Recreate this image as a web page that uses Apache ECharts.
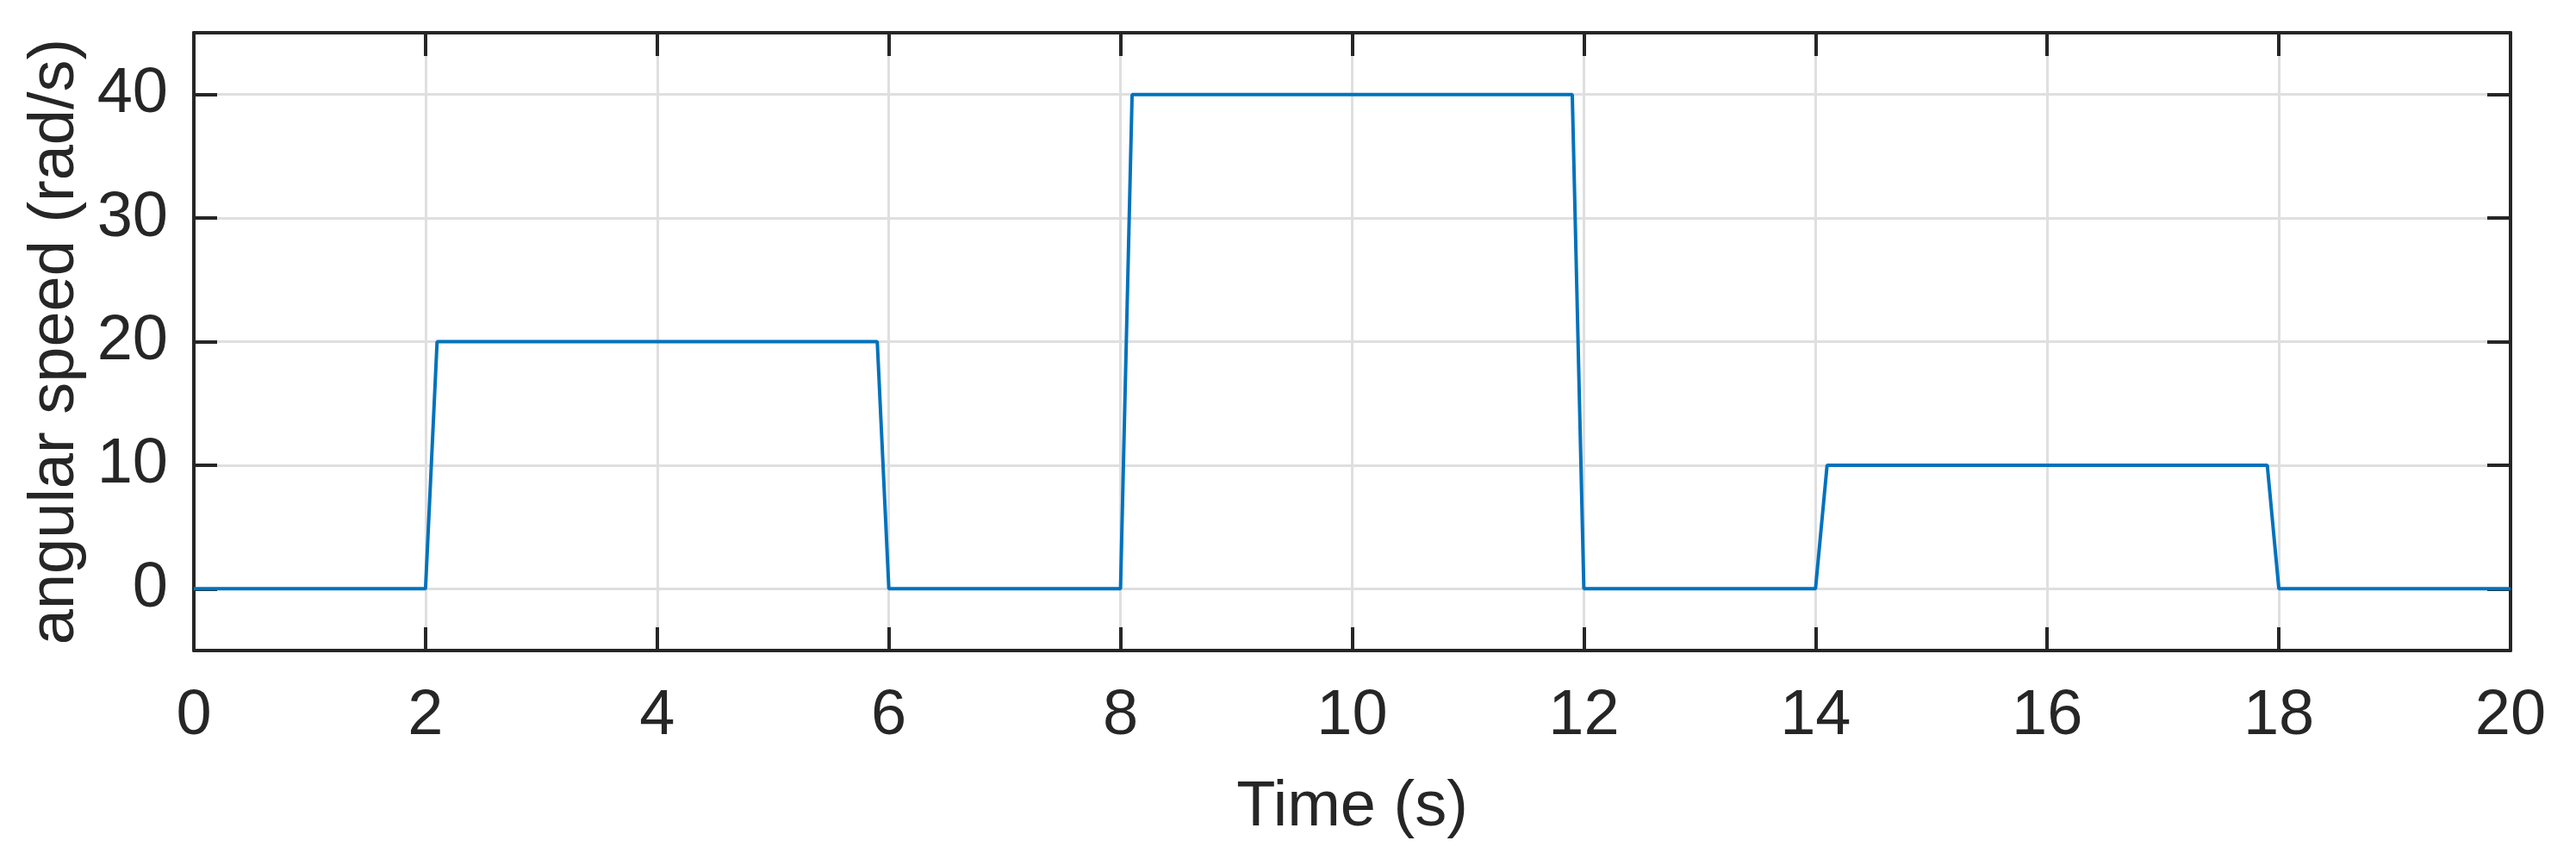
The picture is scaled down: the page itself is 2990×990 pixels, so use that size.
<!DOCTYPE html>
<html>
<head>
<meta charset="utf-8">
<script src="https://cdn.jsdelivr.net/npm/echarts@6/dist/echarts.min.js"></script>
<style>
  html, body { margin: 0; padding: 0; background: #fff; }
  #chart { width: 2990px; height: 990px; }
</style>
</head>
<body>
<div id="chart"></div>
<script>
  // step profile of the commanded angular speed
  const times = [0, 2, 2.1, 5.9, 6, 8, 8.1, 11.9, 12, 14, 14.1, 17.9, 18, 20]
  const speeds = [0, 0, 20, 20, 0, 0, 40, 40, 0, 0, 10, 10, 0, 0]
  const xTicks = [0, 2, 4, 6, 8, 10, 12, 14, 16, 18, 20]
  const yTicks = [0, 10, 20, 30, 40]

  const ink = '#262626'
  const font = 'Liberation Sans, Arial, Helvetica, sans-serif'

  const chart = echarts.init(document.getElementById('chart'))
  const line = { show: true, onZero: false, lineStyle: { color: ink, width: 4 } }
  const tick = vals => ({ show: true, inside: true, length: 27, customValues: vals, lineStyle: { color: ink, width: 4 } })
  chart.setOption({
    backgroundColor: '#fff',
    animation: false,
    grid: { left: 225, right: 76, top: 38, bottom: 235, containLabel: false },
    xAxis: [
      {
        type: 'value',
        min: 0,
        max: 20,
        interval: 2,
        name: 'Time (s)',
        nameLocation: 'middle',
        nameGap: 146,
        nameTextStyle: { color: ink, fontSize: 74, fontFamily: font },
        axisLine: line,
        axisTick: tick(xTicks),
        axisLabel: { color: ink, fontSize: 74, fontFamily: font, margin: 40, customValues: xTicks },
        splitLine: { show: true, lineStyle: { color: '#dfdfdf', width: 3 } }
      },
      {
        type: 'value', position: 'top', min: 0, max: 20, interval: 2,
        axisLine: line, axisTick: tick(xTicks),
        axisLabel: { show: false }, splitLine: { show: false }
      }
    ],
    yAxis: [
      {
        type: 'value',
        min: -5,
        max: 45,
        name: 'angular speed (rad/s)',
        nameLocation: 'middle',
        nameGap: 122,
        nameTextStyle: { color: ink, fontSize: 74, fontFamily: font },
        axisLine: line,
        axisTick: tick(yTicks),
        axisLabel: { color: ink, fontSize: 74, fontFamily: font, margin: 30, customValues: yTicks },
        splitLine: { show: true, lineStyle: { color: '#dfdfdf', width: 3 } }
      },
      {
        type: 'value', position: 'right', min: -5, max: 45,
        axisLine: line, axisTick: tick(yTicks),
        axisLabel: { show: false }, splitLine: { show: false }
      }
    ],
    series: [
      {
        type: 'line',
        data: times.map((t, i) => [t, speeds[i]]),
        showSymbol: false,
        lineStyle: { color: '#0072BD', width: 4 },
        z: 5
      }
    ]
  })
</script>
</body>
</html>
